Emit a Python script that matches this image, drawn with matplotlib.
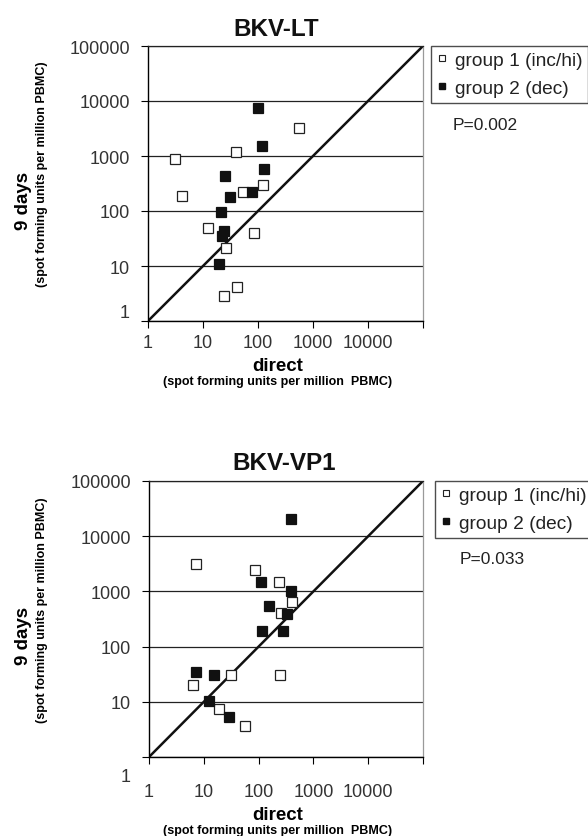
import matplotlib
matplotlib.use("Agg")
import matplotlib.pyplot as plt
from matplotlib.lines import Line2D
from matplotlib.transforms import ScaledTranslation

plt.rcParams['font.family'] = ['Liberation Sans', 'DejaVu Sans']

# BKV-LT: spot forming units per million PBMC, direct vs. after 9 days
lt_g1_direct = [3.1, 4.1, 39, 550, 53, 123, 12.3, 84, 26.5, 42, 24.5]
lt_g1_9days = [900, 187, 1200, 3200, 220, 300, 50, 39, 21, 4.2, 2.8]
lt_g2_direct = [99, 117, 128, 25, 77, 31, 21.5, 24, 22, 19.5]
lt_g2_9days = [7500, 1500, 580, 430, 220, 180, 97, 43, 35, 10.7]

# BKV-VP1
vp1_g1_direct = [7.3, 86, 231, 404, 255, 32, 6.4, 247, 18.7, 57]
vp1_g1_9days = [3100, 2400, 1450, 630, 400, 31, 20.5, 30, 7.4, 3.6]
vp1_g2_direct = [393, 112, 393, 156, 327, 115, 281, 7.3, 15.4, 12.5, 28.9]
vp1_g2_9days = [20700, 1450, 1010, 550, 386, 195, 195, 34, 31, 10.4, 5.2]

decades = [1, 10, 100, 1000, 10000, 100000]
x_ticklabels = ['1', '10', '100', '1000', '10000', '']
y_ticklabels = ['1', '10', '100', '1000', '10000', '100000']
group_labels = ['group 1 (inc/hi)', 'group 2 (dec)']

W, H = 588, 837
fig = plt.figure(figsize=(W / 100, H / 100), dpi=100)


def panel(box, title, title_x, g1x, g1y, g2x, g2y, pval, leg_xy, p_xy,
          xtick_pad, xlab_y, one_shift):
    left, top, right, bottom = box
    ax = fig.add_axes([left / W, 1 - bottom / H, (right - left) / W, (bottom - top) / H])
    ax.set_xscale('log')
    ax.set_yscale('log')
    ax.set_xlim(decades[0], decades[-1])
    ax.set_ylim(decades[0], decades[-1])
    ax.minorticks_off()
    ax.set_xticks(decades)
    ax.set_xticklabels(x_ticklabels)
    ax.set_yticks(decades)
    ax.set_yticklabels(y_ticklabels)
    ax.tick_params(direction='out', length=5, width=0.8, colors='black',
                   labelsize=13, labelcolor='#333333')
    ax.tick_params(axis='y', pad=8)
    ax.tick_params(axis='x', pad=xtick_pad)
    # the "1" on the y axis sits off its tick
    lab = ax.get_yticklabels()[0]
    lab.set_transform(lab.get_transform() +
                      ScaledTranslation(0, one_shift / 100, fig.dpi_scale_trans))

    ax.yaxis.grid(True, color='#222222', linewidth=0.9)
    ax.set_axisbelow(True)
    for side in ['left', 'bottom']:
        ax.spines[side].set_color('black')
        ax.spines[side].set_linewidth(1.0)
    ax.spines['top'].set_color('#222222')
    ax.spines['top'].set_linewidth(0.9)
    ax.spines['right'].set_color('#9a9a9a')
    ax.spines['right'].set_linewidth(0.9)

    # line of identity
    ax.plot([decades[0], decades[-1]], [decades[0], decades[-1]],
            color='#111111', linewidth=1.8, zorder=2)
    ax.plot(g1x, g1y, linestyle='none', marker='s', markersize=6.8,
            markerfacecolor='white', markeredgecolor='#222222',
            markeredgewidth=0.9, zorder=3)
    ax.plot(g2x, g2y, linestyle='none', marker='s', markersize=6.8,
            markerfacecolor='#111111', markeredgecolor='#111111',
            markeredgewidth=0.9, zorder=4)

    fig.text(title_x / W, 1 - (top - 18) / H, title, fontsize=17.5,
             fontweight='bold', ha='center', va='center', color='#111111')

    # axis titles with smaller unit lines underneath
    cx = (left + right) / 2 - 8
    fig.text(cx / W, 1 - xlab_y / H, 'direct', fontsize=13.5,
             fontweight='bold', ha='center', va='center')
    fig.text(cx / W, 1 - (xlab_y + 15) / H,
             '(spot forming units per million  PBMC)', fontsize=9,
             fontweight='bold', ha='center', va='center')
    cy = (top + bottom) / 2
    fig.text(23 / W, 1 - (cy + 16) / H, '9 days', fontsize=13.5,
             fontweight='bold', rotation=90, ha='center', va='center')
    fig.text(42 / W, 1 - (cy - 10) / H,
             '(spot forming units per million PBMC)', fontsize=9,
             fontweight='bold', rotation=90, ha='center', va='center')

    handles = [
        Line2D([], [], linestyle='none', marker='s', markersize=5,
               markerfacecolor='white', markeredgecolor='#222222', markeredgewidth=0.8),
        Line2D([], [], linestyle='none', marker='s', markersize=5,
               markerfacecolor='#111111', markeredgecolor='#111111'),
    ]
    leg = fig.legend(handles, group_labels, loc='upper left',
                     bbox_to_anchor=(leg_xy[0] / W, 1 - leg_xy[1] / H),
                     bbox_transform=fig.transFigure, fontsize=13.8,
                     frameon=True, fancybox=False, edgecolor='#222222',
                     borderpad=0.3, handlelength=0.5, handletextpad=0.45,
                     labelspacing=0.55, borderaxespad=0)
    leg.get_frame().set_linewidth(1.0)
    for t in leg.get_texts():
        t.set_color('#222222')
    fig.text(p_xy[0] / W, 1 - p_xy[1] / H, pval, fontsize=12.5,
             color='#222222', ha='left', va='center')
    return ax


panel((148, 47, 423, 322), 'BKV-LT', 276, lt_g1_direct, lt_g1_9days,
      lt_g2_direct, lt_g2_9days, 'P=0.002', (431, 47), (453, 125),
      4, 367, 10)
panel((149, 482, 423, 758), 'BKV-VP1', 284, vp1_g1_direct, vp1_g1_9days,
      vp1_g2_direct, vp1_g2_9days, 'P=0.033', (435, 482), (460, 560),
      14, 816, -18)

fig.savefig('out.png', dpi=100)
